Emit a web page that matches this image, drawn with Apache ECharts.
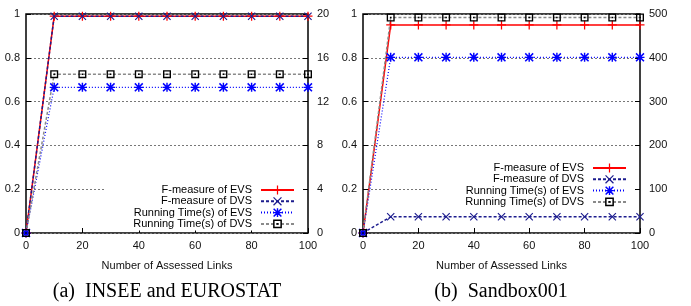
<!DOCTYPE html>
<html>
<head>
<meta charset="utf-8">
<script src="https://cdn.jsdelivr.net/npm/echarts@6/dist/echarts.min.js"></script>
<style>
  html, body { margin: 0; padding: 0; background: #fff; }
  #chart { width: 691px; height: 306px; }
</style>
</head>
<body>
<div id="chart"></div>
<script>
// x positions (number of assessed links)
const links = [0, 10, 20, 30, 40, 50, 60, 70, 80, 90, 100]

// (a) INSEE and EUROSTAT
const inseeFEvs = [0, 0.99, 0.99, 0.99, 0.99, 0.99, 0.99, 0.99, 0.99, 0.99, 0.99]
const inseeFDvs = [0, 0.99, 0.99, 0.99, 0.99, 0.99, 0.99, 0.99, 0.99, 0.99, 0.99]
const inseeTimeEvs = [0, 13.3, 13.3, 13.3, 13.3, 13.3, 13.3, 13.3, 13.3, 13.3, 13.3]
const inseeTimeDvs = [0, 14.5, 14.5, 14.5, 14.5, 14.5, 14.5, 14.5, 14.5, 14.5, 14.5]

// (b) Sandbox001
const sandboxFEvs = [0, 0.95, 0.95, 0.95, 0.95, 0.95, 0.95, 0.95, 0.95, 0.95, 0.95]
const sandboxFDvs = [0, 0.074, 0.074, 0.074, 0.074, 0.074, 0.074, 0.074, 0.074, 0.074, 0.074]
const sandboxTimeEvs = [0, 401, 401, 401, 401, 401, 401, 401, 401, 401, 401]
const sandboxTimeDvs = [0, 492, 492, 492, 492, 492, 492, 492, 492, 492, 492]

const names = ['F-measure of EVS', 'F-measure of DVS', 'Running Time(s) of EVS', 'Running Time(s) of DVS']
const captions = ['(a)  INSEE and EUROSTAT', '(b)  Sandbox001']

// gnuplot-like point shapes
const plusPath = 'path://M4.3,0h1.4v10h-1.4z M0,4.3h10v1.4h-10z'
const crossPath = 'path://M0,1 L1,0 L5,4 L9,0 L10,1 L6,5 L10,9 L9,10 L5,6 L1,10 L0,9 L4,5 Z'
const starPath = 'path://M4.2,0h1.6v10h-1.6z M0,4.2h10v1.6h-10z M0,1.2 L1.2,0 L5,3.8 L8.8,0 L10,1.2 L6.2,5 L10,8.8 L8.8,10 L5,6.2 L1.2,10 L0,8.8 L3.8,5 Z'
const boxPath = 'path://M0,0h10v10h-10z M1.7,1.7v6.6h6.6v-6.6z M4,4h2v2h-2z'

const font = 'Liberation Sans'

function pairs(ys) {
    return links.map((x, i) => [x, ys[i]])
}

function panelSeries(g, fEvs, fDvs, tEvs, tDvs) {
    return [{
        name: names[0], type: 'line', xAxisIndex: g, yAxisIndex: g * 2,
        data: pairs(fEvs), symbol: plusPath, symbolSize: 9, clip: false,
        lineStyle: { color: '#ff0000', width: 1.5 },
        itemStyle: { color: '#ff0000' }
    }, {
        name: names[1], type: 'line', xAxisIndex: g, yAxisIndex: g * 2,
        data: pairs(fDvs), symbol: crossPath, symbolSize: 8, clip: false,
        lineStyle: { color: '#1c1c8e', width: 1.5, type: [3, 2] },
        itemStyle: { color: '#1c1c8e' }
    }, {
        name: names[2], type: 'line', xAxisIndex: g, yAxisIndex: g * 2 + 1,
        data: pairs(tEvs), symbol: starPath, symbolSize: 9, clip: false,
        lineStyle: { color: '#0000ff', width: 1.2, type: [1, 2] },
        itemStyle: { color: '#0000ff' }
    }, {
        name: names[3], type: 'line', xAxisIndex: g, yAxisIndex: g * 2 + 1,
        data: pairs(tDvs), symbol: boxPath, symbolSize: 8, clip: false,
        lineStyle: { color: '#8a8a8a', width: 1.5, type: [3, 2] },
        itemStyle: { color: '#000' }
    }]
}

function xAxisFor(g) {
    return {
        type: 'value', gridIndex: g, min: 0, max: 100, interval: 20,
        name: 'Number of Assessed Links', nameLocation: 'middle', nameGap: 27,
        nameTextStyle: { fontFamily: font, fontSize: 11, color: '#111' },
        axisLine: { show: false },
        axisTick: { inside: true, length: 5, lineStyle: { color: '#000' } },
        axisLabel: { margin: 7, fontFamily: font, fontSize: 11, color: '#111' },
        splitLine: { show: false }
    }
}

function leftAxis(g) {
    return {
        type: 'value', gridIndex: g, position: 'left', min: 0, max: 1, interval: 0.2,
        axisLine: { show: false },
        axisTick: { inside: true, length: 5, lineStyle: { color: '#000' } },
        axisLabel: { margin: 6, fontFamily: font, fontSize: 11, color: '#111' },
        splitLine: { show: true, lineStyle: { color: '#777', width: 1, type: [2, 2] } }
    }
}

function rightAxis(g, max, interval) {
    return {
        type: 'value', gridIndex: g, position: 'right', min: 0, max: max, interval: interval,
        axisLine: { show: false },
        axisTick: { inside: true, length: 5, lineStyle: { color: '#000' } },
        axisLabel: { margin: 9, fontFamily: font, fontSize: 11, color: '#111' },
        splitLine: { show: false }
    }
}

function legendFor(right, top, padLeft, padRight) {
    return {
        data: names, orient: 'vertical', align: 'right',
        right: right, top: top,
        padding: [3, padRight, 1, padLeft],
        backgroundColor: '#fff',
        itemWidth: 33, itemHeight: 11, itemGap: 0.3,
        selectedMode: false,
        textStyle: { fontFamily: font, fontSize: 11, lineHeight: 11, color: '#000', padding: [0, 4, 0, 0] }
    }
}

const chart = echarts.init(document.getElementById('chart'))

chart.setOption({
    animation: false,
    backgroundColor: '#fff',
    grid: [
        { left: 26, top: 14, width: 282, height: 219, show: true, borderColor: '#000', borderWidth: 1.5, backgroundColor: 'transparent' },
        { left: 363, top: 14, width: 277, height: 219, show: true, borderColor: '#000', borderWidth: 1.5, backgroundColor: 'transparent' }
    ],
    xAxis: [xAxisFor(0), xAxisFor(1)],
    yAxis: [leftAxis(0), rightAxis(0, 20, 4), leftAxis(1), rightAxis(1, 500, 100)],
    legend: [
        legendFor(691 - 303, 181.5, 28, 8),
        legendFor(691 - 633, 159.5, 27, 6)
    ],
    graphic: [{
        type: 'text', x: 167, y: 292,
        style: { text: captions[0], textAlign: 'center', textVerticalAlign: 'middle', fontFamily: 'Liberation Serif', fontSize: 20, fill: '#000' }
    }, {
        type: 'text', x: 501, y: 292,
        style: { text: captions[1], textAlign: 'center', textVerticalAlign: 'middle', fontFamily: 'Liberation Serif', fontSize: 20, fill: '#000' }
    }],
    series: [].concat(
        panelSeries(0, inseeFEvs, inseeFDvs, inseeTimeEvs, inseeTimeDvs),
        panelSeries(1, sandboxFEvs, sandboxFDvs, sandboxTimeEvs, sandboxTimeDvs)
    )
})
</script>
</body>
</html>
